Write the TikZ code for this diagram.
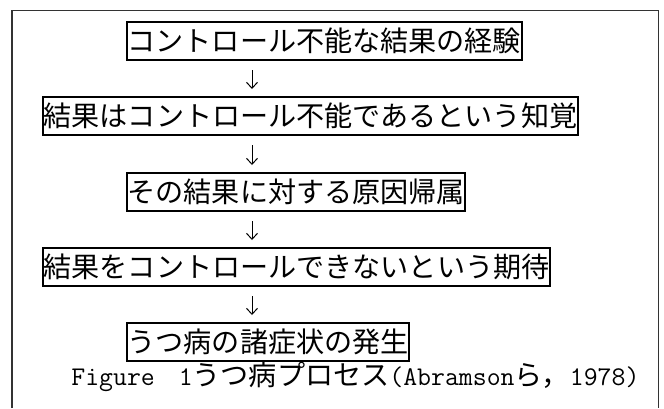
\documentclass[tikz,border=0pt]{standalone}
\usepackage{fontspec}
\setmainfont{Noto Sans CJK JP}
\usepackage{tikz}
\usetikzlibrary{positioning, arrows.meta}
\tikzstyle{stage} = [rectangle, draw=black, line width=1pt, anchor=north west, inner xsep=0.3pt, inner ysep=0pt, minimum height=19pt, text height=12.4pt, text depth=1.7pt, font=\fontsize{14.05pt}{16pt}\selectfont]
\tikzstyle{arrow} = [line width=0.5pt, -{Straight Barb[length=3pt,width=5.5pt]}, shorten <=4.5pt, shorten >=3.5pt]
\tikzstyle{frame} = [draw=black!80, line width=0.6pt]
\newcommand{\figlatin}[1]{{\ttfamily\fontsize{13.5pt}{16pt}\selectfont #1}}

\begin{document}
\begin{tikzpicture}[x=0.5pt, y=-0.5pt]
	\useasboundingbox (0,0) rectangle (664,408);
	\draw [frame] (12,408) -- (12,10.5) -- (658.5,10.5) -- (658.5,408);
	
	\node (experience) [stage] at (126,21) {コントロール不能な結果の経験};
	\node (perception) [stage] at (42,96) {結果はコントロール不能であるという知覚};
	\node (attribution) [stage] at (126,172) {その結果に対する原因帰属};
	\node (expectation) [stage] at (42,247) {結果をコントロールできないという期待};
	\node (symptoms) [stage] at (126,322) {うつ病の諸症状の発生};
	
	\node (caption) [anchor=base west, inner sep=0pt, font=\fontsize{14.05pt}{16pt}\selectfont] at (71,385) {\figlatin{Figure\hspace{12pt}1}うつ病プロセス\figlatin{(Abramson}ら，\figlatin{1978)}};
	
	\coordinate (arrowcol) at (252,0);
	\draw [arrow] (experience.south -| arrowcol) -- (perception.north -| arrowcol);
	\draw [arrow] (perception.south -| arrowcol) -- (attribution.north -| arrowcol);
	\draw [arrow] (attribution.south -| arrowcol) -- (expectation.north -| arrowcol);
	\draw [arrow] (expectation.south -| arrowcol) -- (symptoms.north -| arrowcol);
	
\end{tikzpicture}
\end{document}
